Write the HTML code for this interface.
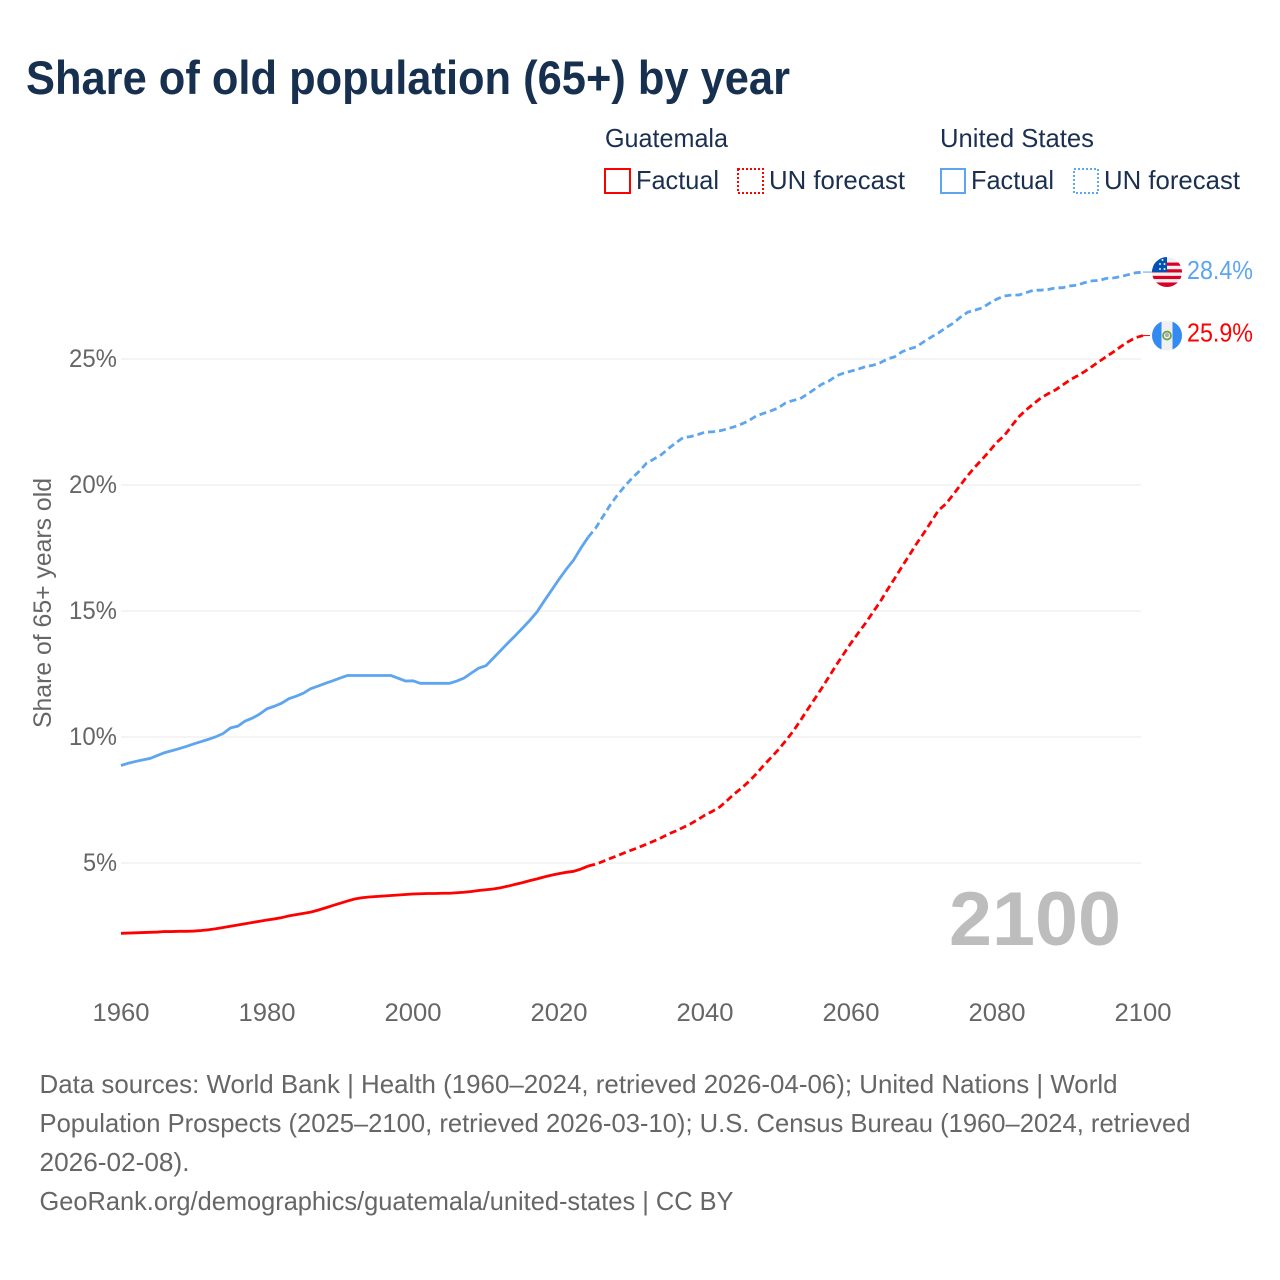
<!DOCTYPE html>
<html lang="en">
<head>
<meta charset="utf-8">
<title>Share of old population (65+) by year</title>
<style>
html,body{margin:0;padding:0;background:#fff;}
svg{display:block;font-family:"Liberation Sans",sans-serif;}
</style>
</head>
<body>
<svg id="chart" xmlns="http://www.w3.org/2000/svg" width="1280" height="1280" viewBox="0 0 1280 1280">
  <defs>
    <clipPath id="us-clip"><circle cx="0" cy="0" r="15"/></clipPath>
    <clipPath id="gt-clip"><circle cx="0" cy="0" r="15"/></clipPath>
  </defs>
  <rect x="0" y="0" width="1280" height="1280" fill="#fff"/>
  <text x="26" y="94" font-size="47" font-weight="700" fill="#17304f" textLength="764" lengthAdjust="spacingAndGlyphs">Share of old population (65+) by year</text>

  <g font-size="26" fill="#1b3050">
    <text x="605" y="147" textLength="123" lengthAdjust="spacingAndGlyphs">Guatemala</text>
    <rect x="605" y="169" width="25" height="24" fill="none" stroke="#ff0000" stroke-width="2"/>
    <text x="636" y="189" textLength="83" lengthAdjust="spacingAndGlyphs">Factual</text>
    <rect x="738" y="169" width="25" height="24" fill="none" stroke="#ff0000" stroke-width="2" stroke-dasharray="2 2"/>
    <text x="769" y="189" textLength="136" lengthAdjust="spacingAndGlyphs">UN forecast</text>
    <text x="940" y="147" textLength="154" lengthAdjust="spacingAndGlyphs">United States</text>
    <rect x="941" y="169" width="24" height="24" fill="none" stroke="#5da5ee" stroke-width="2"/>
    <text x="971" y="189" textLength="83" lengthAdjust="spacingAndGlyphs">Factual</text>
    <rect x="1074" y="169" width="24" height="24" fill="none" stroke="#5da5ee" stroke-width="2" stroke-dasharray="2 2"/>
    <text x="1104" y="189" textLength="136" lengthAdjust="spacingAndGlyphs">UN forecast</text>
  </g>

  <g id="grid"></g>
  <g id="y-ticks"></g>
  <g id="x-ticks"></g>
  <text transform="translate(51,728) rotate(-90)" font-size="25" fill="#666" textLength="250" lengthAdjust="spacingAndGlyphs">Share of 65+ years old</text>
  <text x="949" y="945" font-size="76" font-weight="700" fill="#bdbdbd" textLength="172" lengthAdjust="spacingAndGlyphs">2100</text>

  <g id="series"></g>

  <g id="flag-us">
    <g clip-path="url(#us-clip)">
      <rect x="-15" y="-15" width="30" height="30" fill="#f0f0f0"/>
      <rect x="-15" y="-9.5" width="30" height="3.2" fill="#d80027"/>
      <rect x="-15" y="-2.8" width="30" height="3.2" fill="#d80027"/>
      <rect x="-15" y="3.8" width="30" height="3.2" fill="#d80027"/>
      <rect x="-15" y="10.4" width="30" height="4.6" fill="#d80027"/>
      <rect x="-15" y="-15" width="15" height="15" fill="#0052b4"/>
      <circle cx="-7" cy="-8" r="1" fill="#f0f0f0"/>
      <circle cx="-2.5" cy="-8" r="1" fill="#f0f0f0"/>
      <circle cx="-7" cy="-3" r="1" fill="#f0f0f0"/>
      <circle cx="-2.5" cy="-3" r="1" fill="#f0f0f0"/>
      <circle cx="-4.5" cy="-12" r="1" fill="#f0f0f0"/>
    </g>
  </g>
  <g id="flag-gt">
    <g clip-path="url(#gt-clip)">
      <rect x="-15" y="-15" width="30" height="30" fill="#f0f0f0"/>
      <rect x="-15" y="-15" width="9.5" height="30" fill="#338af3"/>
      <rect x="5.5" y="-15" width="9.5" height="30" fill="#338af3"/>
      <circle cx="0" cy="0" r="4" fill="none" stroke="#6da544" stroke-width="1.8"/>
      <circle cx="0" cy="-0.5" r="2" fill="#acabb1"/>
    </g>
  </g>
  <text id="label-us" x="1187" y="279" font-size="26" fill="#5da5ee" textLength="66" lengthAdjust="spacingAndGlyphs"></text>
  <text id="label-gt" x="1187" y="342" font-size="26" fill="#ff0000" textLength="66" lengthAdjust="spacingAndGlyphs"></text>

  <g font-size="26" fill="#666">
    <text x="39.5" y="1093" textLength="1078" lengthAdjust="spacingAndGlyphs">Data sources: World Bank | Health (1960–2024, retrieved 2026-04-06); United Nations | World</text>
    <text x="39.5" y="1132" textLength="1151" lengthAdjust="spacingAndGlyphs">Population Prospects (2025–2100, retrieved 2026-03-10); U.S. Census Bureau (1960–2024, retrieved</text>
    <text x="39.5" y="1171" textLength="150" lengthAdjust="spacingAndGlyphs">2026-02-08).</text>
    <text x="39.5" y="1210" textLength="694" lengthAdjust="spacingAndGlyphs">GeoRank.org/demographics/guatemala/united-states | CC BY</text>
  </g>
</svg>
<script>
const firstYear = 1960;
const lastFactualYear = 2024;
const yTickValues = [5, 10, 15, 20, 25];
const xTickYears = [1960, 1980, 2000, 2020, 2040, 2060, 2080, 2100];
const printedValueUS = "28.4%";
const printedValueGT = "25.9%";
const usValues = [
  8.87,8.96,9.03,9.09,9.15,9.27,9.38,9.46,9.54,9.63,
  9.73,9.82,9.91,10.01,10.14,10.36,10.43,10.63,10.75,10.91,
  11.12,11.22,11.34,11.52,11.62,11.74,11.92,12.02,12.13,12.23,
  12.34,12.44,12.44,12.44,12.44,12.44,12.44,12.44,12.33,12.22,
  12.23,12.13,12.13,12.13,12.13,12.13,12.22,12.34,12.54,12.73,
  12.83,13.13,13.43,13.73,14.02,14.32,14.63,14.97,15.41,15.83,
  16.26,16.66,17.02,17.5,17.93,18.28,18.74,19.2,19.6,19.95,
  20.27,20.55,20.87,21.03,21.2,21.45,21.67,21.88,21.92,22.0,
  22.1,22.11,22.15,22.22,22.31,22.42,22.55,22.74,22.84,22.94,
  23.05,23.25,23.35,23.42,23.6,23.8,24.0,24.13,24.33,24.44,
  24.52,24.6,24.7,24.75,24.85,25.0,25.09,25.29,25.4,25.49,
  25.69,25.87,26.04,26.24,26.42,26.66,26.86,26.94,27.03,27.22,
  27.38,27.5,27.54,27.54,27.63,27.73,27.73,27.76,27.82,27.83,
  27.9,27.93,28.03,28.1,28.12,28.2,28.22,28.27,28.35,28.42,
  28.45
];
const gtValues = [
  2.21,2.22,2.23,2.24,2.25,2.26,2.28,2.28,2.29,2.29,
  2.30,2.32,2.35,2.39,2.44,2.49,2.54,2.59,2.64,2.69,
  2.74,2.78,2.83,2.9,2.95,3.0,3.05,3.13,3.22,3.31,
  3.4,3.49,3.57,3.62,3.65,3.67,3.69,3.71,3.73,3.75,
  3.77,3.78,3.79,3.79,3.8,3.8,3.82,3.84,3.87,3.91,
  3.94,3.97,4.02,4.08,4.15,4.22,4.3,4.37,4.45,4.52,
  4.58,4.63,4.67,4.76,4.88,4.95,5.06,5.18,5.29,5.41,
  5.52,5.63,5.75,5.87,6.0,6.15,6.27,6.41,6.55,6.72,
  6.9,7.05,7.22,7.47,7.74,7.97,8.23,8.53,8.86,9.17,
  9.48,9.83,10.2,10.62,11.07,11.5,11.94,12.4,12.86,13.3,
  13.73,14.13,14.52,14.95,15.37,15.85,16.3,16.77,17.22,17.68,
  18.1,18.55,19.0,19.25,19.62,20.0,20.38,20.72,21.03,21.36,
  21.7,21.96,22.34,22.71,22.98,23.22,23.45,23.62,23.77,23.97,
  24.17,24.33,24.5,24.7,24.9,25.1,25.29,25.5,25.69,25.85,
  25.93
];

const NS = "http://www.w3.org/2000/svg";
function xScale(year) { return 121 + (year - 1960) * 7.3; }
function yScale(value) { return 989 - value * 25.2; }
function make(tag, parent) {
  const el = document.createElementNS(NS, tag);
  document.getElementById(parent).appendChild(el);
  return el;
}
function pathFor(values, fromYear, toYear) {
  let d = "";
  values.forEach(function (v, i) {
    const yr = firstYear + i;
    if (yr < fromYear || yr > toYear) return;
    d += (d ? "L" : "M") + xScale(yr).toFixed(2) + " " + yScale(v).toFixed(2);
  });
  return d;
}

yTickValues.forEach(function (v) {
  const line = make("line", "grid");
  
  
  line.setAttribute("x1", 121);
  line.setAttribute("x2", 1141);
  line.setAttribute("y1", yScale(v));
  line.setAttribute("y2", yScale(v));
  line.setAttribute("stroke", "#e9e9e9");
  line.setAttribute("stroke-width", "1");
  const t = make("text", "y-ticks");
  
  
  t.setAttribute("x", 117);
  t.setAttribute("y", yScale(v) + 8);
  t.setAttribute("text-anchor", "end");
  t.setAttribute("font-size", "25");
  t.setAttribute("fill", "#666");
  t.setAttribute("textLength", v < 10 ? 34 : 48);
  t.setAttribute("lengthAdjust", "spacingAndGlyphs");
  t.textContent = v + "%";
});

xTickYears.forEach(function (yr) {
  const t = make("text", "x-ticks");
  
  
  t.setAttribute("x", xScale(yr));
  t.setAttribute("y", 1021);
  t.setAttribute("text-anchor", "middle");
  t.setAttribute("font-size", "25");
  t.setAttribute("fill", "#666");
  t.setAttribute("textLength", 57);
  t.setAttribute("lengthAdjust", "spacingAndGlyphs");
  t.textContent = yr;
});

const lastYear = firstYear + usValues.length - 1;

const usFactual = make("path", "series");


usFactual.setAttribute("d", pathFor(usValues, firstYear, lastFactualYear));
usFactual.setAttribute("fill", "none");
usFactual.setAttribute("stroke", "#5da5ee");
usFactual.setAttribute("stroke-width", "2.8");

const usForecast = make("path", "series");


usForecast.setAttribute("d", pathFor(usValues, lastFactualYear, lastYear));
usForecast.setAttribute("fill", "none");
usForecast.setAttribute("stroke", "#5da5ee");
usForecast.setAttribute("stroke-width", "2.8");
usForecast.setAttribute("stroke-dasharray", "7 4");

const gtFactual = make("path", "series");


gtFactual.setAttribute("d", pathFor(gtValues, firstYear, lastFactualYear));
gtFactual.setAttribute("fill", "none");
gtFactual.setAttribute("stroke", "#ff0000");
gtFactual.setAttribute("stroke-width", "2.8");

const gtForecast = make("path", "series");


gtForecast.setAttribute("d", pathFor(gtValues, lastFactualYear, lastYear));
gtForecast.setAttribute("fill", "none");
gtForecast.setAttribute("stroke", "#ff0000");
gtForecast.setAttribute("stroke-width", "2.8");
gtForecast.setAttribute("stroke-dasharray", "7 4");

const usEnd = yScale(usValues[usValues.length - 1]);
const gtEnd = yScale(gtValues[gtValues.length - 1]);

const usConnector = make("line", "series");


usConnector.setAttribute("x1", xScale(lastYear));
usConnector.setAttribute("x2", 1152);
usConnector.setAttribute("y1", usEnd);
usConnector.setAttribute("y2", usEnd);
usConnector.setAttribute("stroke", "#5da5ee");
usConnector.setAttribute("stroke-width", "1");

const gtConnector = make("line", "series");


gtConnector.setAttribute("x1", xScale(lastYear));
gtConnector.setAttribute("x2", 1150);
gtConnector.setAttribute("y1", gtEnd);
gtConnector.setAttribute("y2", gtEnd);
gtConnector.setAttribute("stroke", "#ff0000");
gtConnector.setAttribute("stroke-width", "1");

document.getElementById("flag-us").setAttribute("transform", "translate(1167," + usEnd + ")");
document.getElementById("flag-gt").setAttribute("transform", "translate(1167," + gtEnd + ")");
const labelUS = document.getElementById("label-us");
labelUS.setAttribute("y", usEnd + 7);
labelUS.textContent = printedValueUS;
const labelGT = document.getElementById("label-gt");
labelGT.setAttribute("y", gtEnd + 6);
labelGT.textContent = printedValueGT;
</script>
</body>
</html>
